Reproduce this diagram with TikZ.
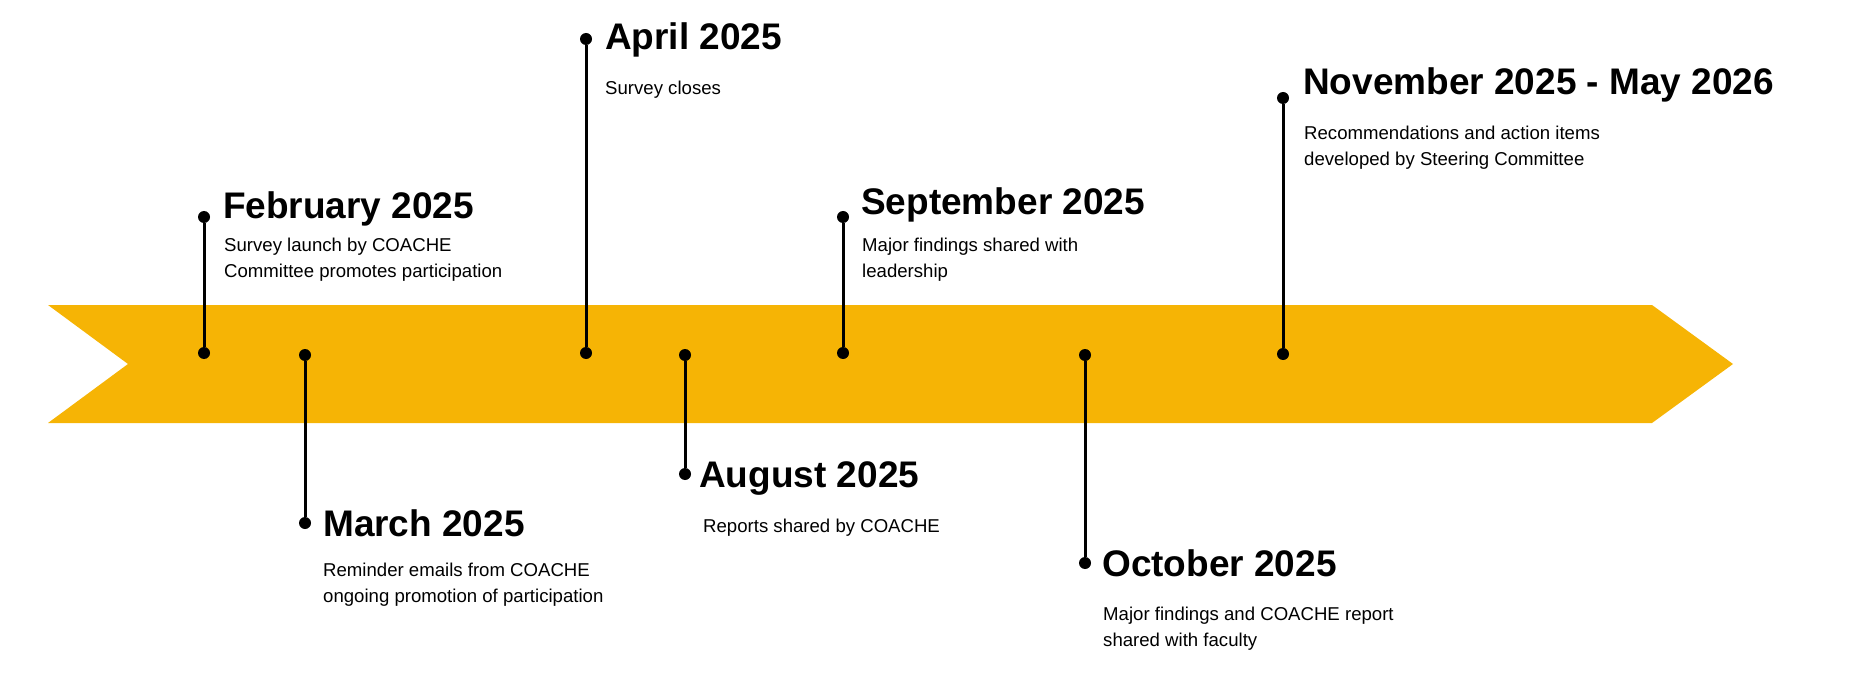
\documentclass[tikz,border=0pt]{standalone}
\usepackage{fontspec}
\setmainfont{Liberation Sans}
\usepackage{tikz}
\definecolor{ribbongold}{HTML}{F6B405}
\tikzset{
    bullet/.style={circle, fill=black, inner sep=0pt, minimum size=12pt},
    stem/.style={line width=3pt},
    datelabel/.style={anchor=base west, inner sep=0pt, font=\bfseries\fontsize{37}{44}\selectfont},
    desc/.style={anchor=base west, inner sep=0pt, align=left, font=\fontsize{18.6}{26}\selectfont}
}
\begin{document}
\begin{tikzpicture}[x=1pt, y=-1pt]
    \useasboundingbox (0,0) rectangle (1849,676);

    \fill[ribbongold] (48,305) -- (1652,305) -- (1733,364) -- (1652,423) -- (48,423) -- (128,364) -- cycle;

    \node[bullet] (FEBTOP) at (204,217) {}; \node[bullet] (FEBBOT) at (204,353) {};
    \node[bullet] (MARTOP) at (305,355) {}; \node[bullet] (MARBOT) at (305,523) {};
    \node[bullet] (APRTOP) at (586,39) {};  \node[bullet] (APRBOT) at (586,353) {};
    \node[bullet] (AUGTOP) at (685,355) {}; \node[bullet] (AUGBOT) at (685,474) {};
    \node[bullet] (SEPTOP) at (843,217) {}; \node[bullet] (SEPBOT) at (843,353) {};
    \node[bullet] (OCTTOP) at (1085,355) {}; \node[bullet] (OCTBOT) at (1085,563) {};
    \node[bullet] (NOVTOP) at (1283,98) {}; \node[bullet] (NOVBOT) at (1283,354) {};

    \draw[stem] (FEBTOP) -- (FEBBOT);
    \draw[stem] (MARTOP) -- (MARBOT);
    \draw[stem] (APRTOP) -- (APRBOT);
    \draw[stem] (AUGTOP) -- (AUGBOT);
    \draw[stem] (SEPTOP) -- (SEPBOT);
    \draw[stem] (OCTTOP) -- (OCTBOT);
    \draw[stem] (NOVTOP) -- (NOVBOT);

    % two-line texts sit on the baseline of their last line
    \node[datelabel] (FEB) at (223,219) {February 2025};
    \node[desc] (FEBTXT) at (224,278) {Survey launch by COACHE\\Committee promotes participation};

    \node[datelabel] (MAR) at (323,536) {March 2025};
    \node[desc] (MARTXT) at (323,602) {Reminder emails from COACHE\\ongoing promotion of participation};

    \node[datelabel] (APR) at (605,50) {April 2025};
    \node[desc] (APRTXT) at (605,95) {Survey closes};

    \node[datelabel] (AUG) at (699,487) {August 2025};
    \node[desc] (AUGTXT) at (703,532) {Reports shared by COACHE};

    \node[datelabel] (SEP) at (861,215) {September 2025};
    \node[desc] (SEPTXT) at (862,277) {Major findings shared with\\leadership};

    \node[datelabel] (OCT) at (1102,576) {October 2025};
    \node[desc] (OCTTXT) at (1103,646) {Major findings and COACHE report\\shared with faculty};

    \node[datelabel] (NOV) at (1303,95) {November 2025 - May 2026};
    \node[desc] (NOVTXT) at (1304,166) {Recommendations and action items\\developed by Steering Committee};

    % \draw[help lines] (0,0) grid[step=100] (1849,676);
\end{tikzpicture}
\end{document}
